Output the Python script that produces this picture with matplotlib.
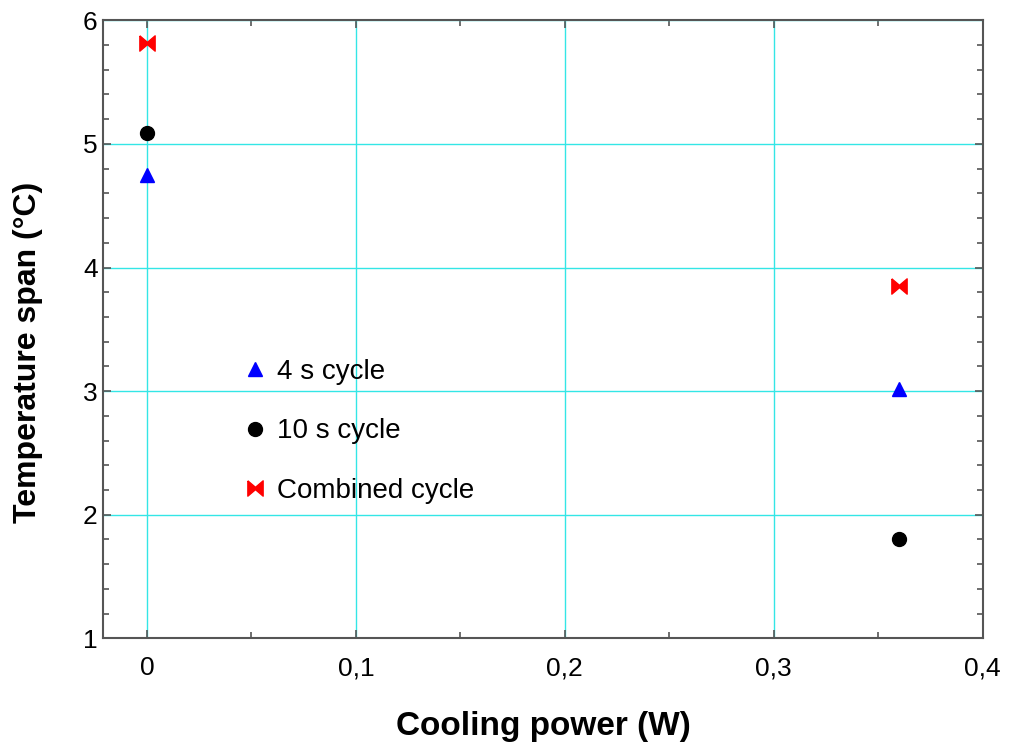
import matplotlib
matplotlib.use('Agg')
import matplotlib.pyplot as plt
from matplotlib.ticker import MultipleLocator, FuncFormatter

plt.rcParams['font.family'] = ['Liberation Sans', 'DejaVu Sans']

# Cooling power (W) and temperature span (°C) per cycle
power = [0.0, 0.36]
span_4s = [4.75, 3.02]
span_10s = [5.09, 1.80]
span_combined = [5.82, 3.85]

# bowtie marker (two triangles pointing to the centre)
bowtie = [(-1, 1), (0, 0.15), (1, 1), (1, -1), (0, -0.15), (-1, -1), (-1, 1)]

fig = plt.figure(figsize=(10.11, 7.51), dpi=100)
ax = fig.add_axes([0.102, 0.150, 0.870, 0.823])

ax.plot(power, span_4s, linestyle='none', marker='^', color='#0000ff', markersize=10, label='4 s cycle')
ax.plot(power, span_10s, linestyle='none', marker='o', color='black', markersize=10, label='10 s cycle')
ax.plot(power, span_combined, linestyle='none', marker=bowtie, color='#ff0000', markersize=11, label='Combined cycle')

ax.set_xlim(-0.021, 0.4)
ax.set_ylim(1, 6)
ax.xaxis.set_major_locator(MultipleLocator(0.1))
ax.xaxis.set_minor_locator(MultipleLocator(0.05))
ax.yaxis.set_major_locator(MultipleLocator(1))
ax.yaxis.set_minor_locator(MultipleLocator(0.2))
ax.xaxis.set_major_formatter(FuncFormatter(lambda v, p: '0' if abs(v) < 1e-9 else f'{v:.1f}'.replace('.', ',')))

ax.grid(True, which='major', color='#33e6e6', linewidth=1)
ax.set_axisbelow(True)
for s in ax.spines.values():
    s.set_color('#555555')
    s.set_linewidth(1.5)
ax.tick_params(which='both', direction='in', top=True, right=True, color='#555555')
ax.tick_params(which='major', length=6, width=1.2)
ax.tick_params(which='minor', length=4, width=1.2)
ax.tick_params(axis='x', labelsize=19, pad=13)
ax.tick_params(axis='y', labelsize=19, pad=4)

ax.set_xlabel('Cooling power (W)', fontsize=24, fontweight='bold', labelpad=22)
ax.set_ylabel('Temperature span (°C)', fontsize=23, fontweight='bold')
ax.yaxis.set_label_coords(-0.068, 0.463)

ax.legend(loc='center left', bbox_to_anchor=(0.128, 0.335), frameon=False, fontsize=20,
          handletextpad=0.3, labelspacing=1.2, markerscale=1.0, handlelength=1.0)

fig.savefig('out.png', dpi=100)
